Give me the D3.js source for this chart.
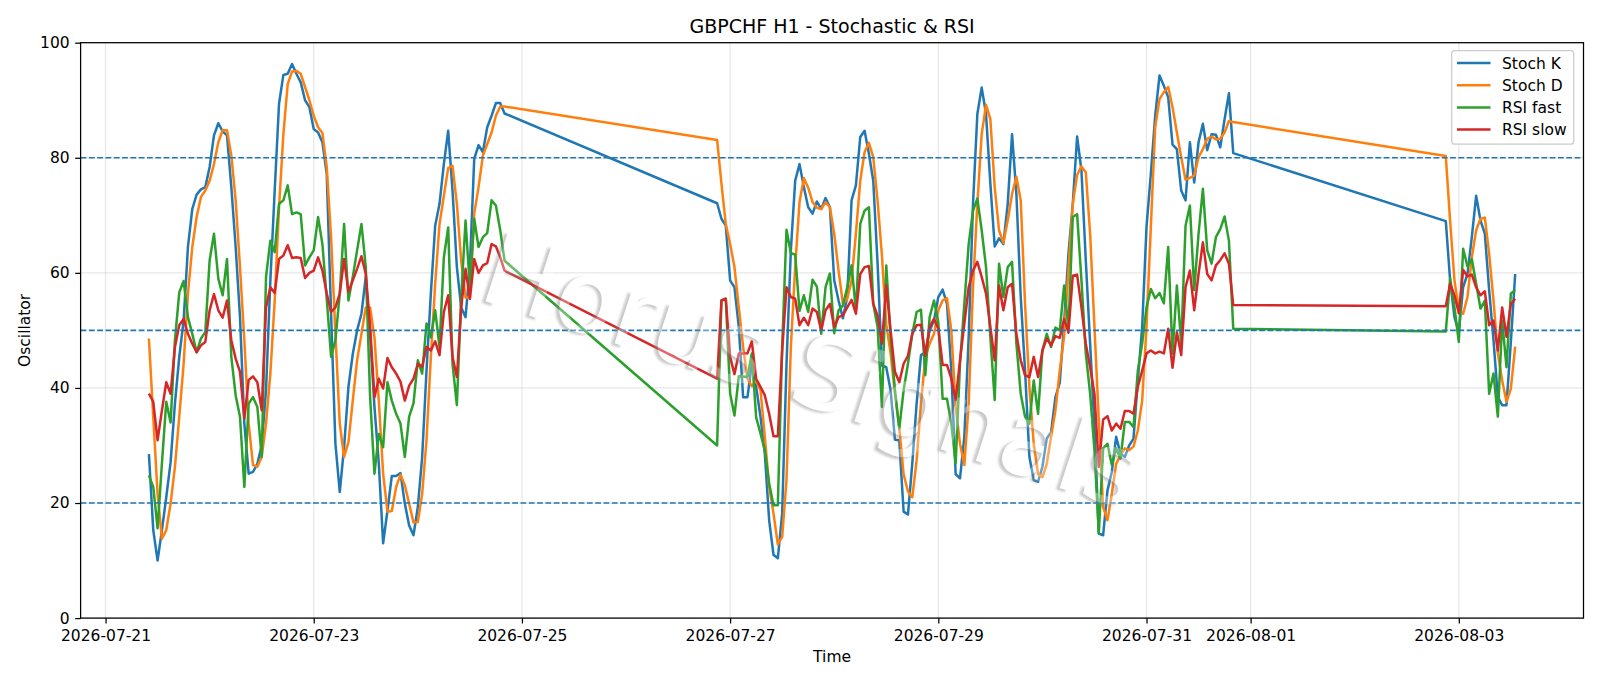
<!DOCTYPE html>
<html lang="en">
<head>
  <meta charset="UTF-8">
  <title>GBPCHF H1 - Stochastic & RSI</title>
  <script src="https://d3js.org/d3.v7.min.js"></script>
  <style>
    body {
      background-color: white;
      margin: 0;
      padding: 0;
    }

    svg {
      display: block;
      font-family: "DejaVu Sans", sans-serif;
    }

    .grid line {
      stroke: #b0b0b0;
      stroke-opacity: 0.3;
      stroke-width: 1.25px;
    }

    .axis text {
      font-family: "DejaVu Sans", sans-serif;
      font-size: 15.5px;
      fill: black;
    }

    .axis line, .axis path {
      stroke: black;
      stroke-width: 1.25px;
    }

    .level {
      stroke: #1f77b4;
      stroke-width: 1.6px;
      stroke-dasharray: 5.8 2.5;
    }
  </style>
</head>
<body>
  <script>
    // each trading session: first bar and number of hourly bars
    const sessions = [
      ["2026-07-21T10:00:00Z", 83],
      ["2026-07-26T21:00:00Z", 120],
      ["2026-08-02T21:00:00Z", 17]
    ];

    const stochK = [
      28.5,15.3,10,15.3,21,27.1,37.3,45.4,51.7,64.5,
      71.1,73.6,74.5,74.9,78.4,83.9,86,84.6,83.9,74.9,
      64.5,52.3,33.8,25.1,25.4,26.8,30,39.6,58.7,74.3,
      89.4,94.4,94.6,96.3,94.6,93.1,90,88.8,85,84.4,
      82.7,77.2,52.9,30.3,21.9,29.7,40.2,45.9,50,52.9,
      59.3,49.4,36.7,26.9,13,18.7,24.7,24.7,25.2,19.9,
      16.1,14.4,19.3,28,43,56.4,68.2,72,78.9,84.7,
      74.3,61,54,52.3,61,79.8,82.2,81,85.3,87.3,
      89.5,89.5,87.7,
      72.1,69.4,68.2,58.7,57.5,50.6,38.4,38.4,44.2,
      40.2,35,28.6,17,11,10.4,18.2,44.2,63.9,76,
      78.9,74.9,71.4,70.3,72.4,71.1,73,71.4,58.7,55.2,
      52.1,55.8,72.6,75.2,83.6,84.7,80.7,76,61.6,43.9,
      43.6,39.6,31,30.9,18.5,18,26.9,37.3,45.7,46.2,
      50,51.7,55.8,57.1,54.6,43,25,24.3,31.5,48.8,
      72,87.6,92.2,87.6,75.5,64.6,66,65,72,84.1,
      73.7,55.8,43,28,24,23.7,26.3,31.2,32.3,38.4,
      40.9,51.2,63.3,72,83.7,77.8,62.2,47.7,33.2,14.7,
      14.4,22.2,25.4,31.5,28.6,28,30,31.2,41.3,50.6,
      68,77.2,87.3,94.3,92.5,90.5,82.3,81.5,74.3,72.6,
      82.7,75.7,82.7,85.9,81.3,84.1,84,81.8,86.7,91.2,
      80.8,
      69,58.7,52.3,49.7,57.5,59.8,66.2,73.4,69.1,66.8,57,48.3,38.4,37,37,48,59.8
    ];

    const stochD = [
      48.6,35,21.6,13.8,15.3,19.9,26.3,35,44.2,56.4,
      64.5,69.7,73.2,74.3,76,78.9,82.7,84.8,84.8,80.4,
      72.6,61,48.3,33.8,26.6,26.3,28,33.8,42.5,55.2,
      71.4,84.1,92.8,95,95.1,94.6,92.3,90,87.3,85.3,
      84.3,78.4,66.2,49.4,33.8,28,30.6,37.8,44.8,49.4,
      54,54,48.8,37.8,25.1,18.5,18.6,22.8,24.9,23.1,
      19.9,16.6,16.7,21.6,30.9,45.4,58.1,68.5,73.4,78.2,
      78.6,72,62.1,55.7,55.7,70.3,74.9,80.4,82.4,84.4,
      87.3,88.9,88.9,
      83.1,75.5,68.5,65,61,54,47.1,41.6,40.3,
      41.3,39.6,31.5,22.8,18.2,12.8,14.1,24,47.1,61,
      72.3,76.5,74.8,72.3,71.3,71.1,72.3,71.4,66.8,60.4,
      54.6,55.5,58.7,66.8,76,81,82.6,80.1,72.5,63,
      51,46,39,33,25,22,21,27.4,37.3,45.4,
      47.7,49.4,53.5,55.2,55.6,50,36.7,30.3,26.6,37.3,
      57.5,72,84.1,89.2,86.7,74.9,67.4,65.2,69.1,73.7,
      76.7,72.6,54.6,40.2,30.3,25,24.5,26.8,31.5,36.1,
      43,49,60.5,72,77,78.5,77.5,66.8,50.6,34.4,
      19.3,17,21.6,26.8,28.3,29.5,29.2,29.8,32.6,37.8,
      50.6,68,85.3,90.2,91.4,92.3,88.8,84.4,80.1,76.2,
      76.5,76.9,80.1,81.5,83.3,83.7,83.2,83.3,84.4,86.4,
      86.2,
      80.3,69,58.7,53.5,52.9,55.8,62.7,67.4,69.4,69.6,63.3,55.2,46,41.3,37.6,39.9,47.2
    ];

    const rsiFast = [
      24.8,22.8,15.6,26.9,37.6,34,48.3,56.6,58.6,52.3,
      49.4,46.2,48.6,49.7,62.2,66.8,59,56.1,62.4,45.4,
      38.7,35,22.8,37.3,38.4,36.7,28,59.3,65.6,63.6,
      72,72.6,75.2,70.2,70.5,70.2,61.3,62.7,63.9,69.7,
      65,55.5,45.4,48.3,56.4,68.5,55.2,59.3,63.9,68.5,
      61,38.4,25.1,32,29.7,41,37.8,35.5,33.8,28,
      35,37.3,44.8,42.5,51.2,48.8,53.5,47.1,62.7,67.9,
      44.2,37,55.8,69.1,57.5,69.4,64.5,66.2,66.9,72.6,
      71.7,67.4,62.1,
      30,55.2,55.5,39,35.2,42,42,41.9,46,
      34.9,32.1,29.2,23.4,19.6,19.6,47.1,67.5,63.4,63.2,
      53.4,56.1,53.2,58.8,57.6,49.4,57.5,59.9,49.5,53.5,
      54.3,57.5,61.3,53.5,68.5,70.8,71.4,54.6,50.6,36.7,
      61.3,48.8,39.6,32.9,39.6,44.2,49.4,53.2,53.6,42.2,
      52.3,55.2,51.4,38.1,38.1,33.8,26.9,44.2,54.6,65,
      70.8,72.9,67.4,61,48.8,37.9,61.6,55.8,61,61.9,
      47.7,39,35,33.8,41.3,35.5,46.5,49.4,47.1,50.5,
      50,57.8,50.3,69.7,70.2,58.7,46,39,29.2,14.7,
      29.5,30.3,26.6,29.5,27.7,34.1,34.1,33.2,43,47.7,
      54,57.2,55.6,56.5,54.7,64.5,46,57.8,47.7,68.2,
      71.7,57,66.8,74.6,63.9,61.6,66.2,67.6,69.8,65.6,
      50.3,
      49.8,59,54,48,64.2,61.1,62.4,58.1,53.8,55.2,39,42.5,35,51.7,43.6,56.4,57
    ];

    const rsiSlow = [
      39,37.6,30.9,36.1,41,39,47.1,50.9,52,49.4,
      47.7,46.2,47.4,48,53.5,56.3,53.5,52.2,55.2,48.3,
      45.1,42.8,34.7,41.4,42,41,36.1,54,57.5,56.5,
      62.4,63,64.8,62.6,62.7,62.6,59.1,60,60.4,62.7,
      60.4,56.4,53.2,54,56.4,62.4,56.7,58.7,60.7,62.9,
      59.8,50.6,38.4,41.6,39.9,45.2,43.6,42.5,41.1,37.8,
      40.4,41.6,44.2,43.7,47.1,46.5,48.1,45.7,53.2,56.1,
      45.4,41.9,54,60.7,55.5,62.4,60,61.3,61.7,65,
      64.6,62.7,60.4,
      41.6,55.2,55.5,45.4,42.4,46,46,46,48.1,
      41.6,40.2,38.7,35.5,31.6,31.6,46.5,57.5,55.8,55.5,
      50.9,52.2,50.9,53.8,53.2,50,53.5,54.6,50.6,52.3,
      52.6,54,55.3,52.9,59.8,61,61.2,54.6,52.6,47.7,
      57.8,50,42.8,41,44.2,45.6,49.4,50.9,51,45.6,
      50.6,52,50.3,44,44,41.6,37.9,44.8,51.2,57.5,
      60.4,61.9,59.3,56.4,50.6,44.8,57.8,53.5,57.5,58.1,
      49.4,44.8,42.2,41.9,45.4,41.9,46.5,48.6,47.4,49,
      48.7,52,49.6,59.5,59.7,54,47.7,43.6,39,26.3,
      34.5,35.1,32.6,33.8,32.9,36,36,35.5,40.2,43,
      46,46.5,46,46.3,46,50.3,43.5,49.7,45.7,57.5,
      60.4,53.5,59.8,65.3,59.8,58.7,61.3,62.2,63.4,61.6,
      54.4,
      54.2,58.1,56.1,53,60.5,59.4,59.7,57.5,56.1,56.8,50.9,51.7,46.5,54,48.9,54.6,55.5
    ];

    const seriesNames = ["Stoch K", "Stoch D", "RSI fast", "RSI slow"];
    const seriesColors = ["#1f77b4", "#ff7f0e", "#2ca02c", "#d62728"];
    const levels = [20, 50, 80];
    const xTickDays = ["2026-07-21", "2026-07-23", "2026-07-25", "2026-07-27", "2026-07-29", "2026-07-31", "2026-08-01", "2026-08-03"];
    const yTicks = [0, 20, 40, 60, 80, 100];

    const width = 1600;
    const height = 686;
    const margin = { top: 42.7, right: 16.5, bottom: 67.9, left: 80.6 };

    // one timestamp per bar, weekend gaps stay as gaps in time
    const times = sessions.flatMap(([start, count]) =>
      d3.range(count).map(i => d3.utcHour.offset(new Date(start), i)));

    const svg = d3.select("body").append("svg")
      .attr("width", width)
      .attr("height", height);

    // 5% side padding like the original
    const extent = d3.extent(times);
    const pad = (extent[1] - extent[0]) * 0.05;
    const x = d3.scaleUtc()
      .domain([new Date(+extent[0] - pad), new Date(+extent[1] + pad)])
      .range([margin.left, width - margin.right]);
    const y = d3.scaleLinear()
      .domain([0, 100])
      .range([height - margin.bottom, margin.top]);

    const xTicks = xTickDays.map(d => new Date(d + "T00:00:00Z"));

    // grid
    const grid = svg.append("g").attr("class", "grid");
    grid.selectAll(".gx").data(xTicks).enter().append("line")
      .attr("x1", d => x(d)).attr("x2", d => x(d))
      .attr("y1", y(0)).attr("y2", y(100));
    grid.selectAll(".gy").data(yTicks).enter().append("line")
      .attr("x1", x.range()[0]).attr("x2", x.range()[1])
      .attr("y1", d => y(d)).attr("y2", d => y(d));

    // series lines
    const line = d3.line()
      .x((d, i) => x(times[i]))
      .y(d => y(d));

    [stochK, stochD, rsiFast, rsiSlow].forEach((values, i) => {
      svg.append("path")
        .datum(values)
        .attr("fill", "none")
        .attr("stroke", seriesColors[i])
        .attr("stroke-width", 2.5)
        .attr("stroke-linejoin", "round")
        .attr("d", line);
    });

    // 20 / 50 / 80 levels
    svg.selectAll(".level").data(levels).enter().append("line")
      .attr("class", "level")
      .attr("x1", x.range()[0]).attr("x2", x.range()[1])
      .attr("y1", d => y(d)).attr("y2", d => y(d));

    // watermark: gray shadow only shows outside the pale letter body
    const markText = "Horus Signals";
    const markSize = 100;
    const defs = svg.append("defs");
    defs.append("filter").attr("id", "soft")
      .append("feGaussianBlur").attr("stdDeviation", 0.9);
    const cut = defs.append("mask").attr("id", "cut")
      .attr("maskUnits", "userSpaceOnUse")
      .attr("x", -500).attr("y", -150).attr("width", 1000).attr("height", 300);
    cut.append("rect")
      .attr("x", -500).attr("y", -150).attr("width", 1000).attr("height", 300)
      .attr("fill", "white");
    cut.append("text")
      .attr("font-size", markSize)
      .attr("text-anchor", "middle")
      .attr("dominant-baseline", "middle")
      .attr("fill", "black")
      .text(markText);

    const mark = svg.append("g")
      .attr("transform", "translate(810,378) rotate(18)")
      .attr("font-size", markSize)
      .attr("text-anchor", "middle")
      .attr("dominant-baseline", "middle");
    mark.append("g")
      .attr("mask", "url(#cut)")
      .append("text")
      .attr("x", -3.2).attr("y", 3)
      .attr("fill", "#888")
      .attr("opacity", 0.45)
      .attr("filter", "url(#soft)")
      .text(markText);
    mark.append("text")
      .attr("fill", "white")
      .attr("opacity", 0.3)
      .text(markText);

    // axes
    const xAxis = svg.append("g")
      .attr("class", "axis")
      .attr("transform", `translate(0,${y(0)})`)
      .call(d3.axisBottom(x)
        .tickValues(xTicks)
        .tickFormat(d3.utcFormat("%Y-%m-%d"))
        .tickSize(5.4)
        .tickPadding(7));
    const yAxis = svg.append("g")
      .attr("class", "axis")
      .attr("transform", `translate(${margin.left},0)`)
      .call(d3.axisLeft(y)
        .tickValues(yTicks)
        .tickSize(5.4)
        .tickPadding(5.5));
    xAxis.select(".domain").remove();
    yAxis.select(".domain").remove();

    svg.append("rect")
      .attr("x", margin.left).attr("y", margin.top)
      .attr("width", x.range()[1] - margin.left)
      .attr("height", y(0) - margin.top)
      .attr("fill", "none")
      .attr("stroke", "black")
      .attr("stroke-width", 1.25);

    // labels
    svg.append("text")
      .attr("x", (margin.left + x.range()[1]) / 2).attr("y", 33)
      .attr("text-anchor", "middle")
      .attr("font-size", 19)
      .text("GBPCHF H1 - Stochastic & RSI");
    svg.append("text")
      .attr("x", (margin.left + x.range()[1]) / 2).attr("y", 662)
      .attr("text-anchor", "middle")
      .attr("font-size", 15.5)
      .text("Time");
    svg.append("text")
      .attr("transform", `translate(30,${(margin.top + y(0)) / 2}) rotate(-90)`)
      .attr("text-anchor", "middle")
      .attr("font-size", 15.5)
      .text("Oscillator");

    // legend
    const legend = svg.append("g");
    legend.append("rect")
      .attr("x", 1451.7).attr("y", 50.7)
      .attr("width", 122).attr("height", 93.5)
      .attr("rx", 3)
      .attr("fill", "white")
      .attr("fill-opacity", 0.8)
      .attr("stroke", "#ccc")
      .attr("stroke-width", 1.25);
    const rows = legend.selectAll(".row").data(seriesNames).enter().append("g")
      .attr("transform", (d, i) => `translate(1457,${63 + i * 22.2})`);
    rows.append("line")
      .attr("x2", 33.5)
      .attr("stroke", (d, i) => seriesColors[i])
      .attr("stroke-width", 2.5);
    rows.append("text")
      .attr("x", 45)
      .attr("y", 5.5)
      .attr("font-size", 15.5)
      .text(d => d);
  </script>
</body>
</html>
